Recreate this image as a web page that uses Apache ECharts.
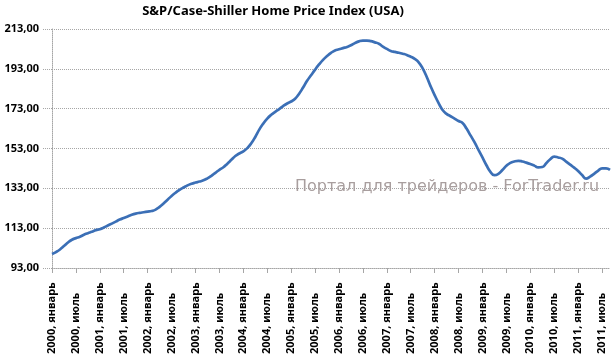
<!DOCTYPE html>
<html>
<head>
<meta charset="utf-8">
<script src="https://cdn.jsdelivr.net/npm/echarts@6/dist/echarts.min.js"></script>
<style>html,body{margin:0;padding:0;background:#fff}#c{width:612px;height:357px}</style>
</head>
<body>
<div id="c"></div>
<script>
// Monthly index values, January..December
const y2000 = [100.0, 101.0, 102.3, 104.0, 105.8, 107.2, 108.0, 108.7, 109.7, 110.5, 111.2, 112.0];
const y2001 = [112.5, 113.3, 114.3, 115.3, 116.3, 117.3, 118.1, 118.9, 119.7, 120.3, 120.7, 121.0];
const y2002 = [121.3, 121.6, 122.3, 123.7, 125.4, 127.3, 129.2, 130.8, 132.2, 133.4, 134.5, 135.3];
const y2003 = [135.9, 136.4, 137.0, 138.0, 139.3, 140.8, 142.3, 143.6, 145.4, 147.3, 149.2, 150.5];
const y2004 = [151.6, 153.2, 155.6, 158.8, 162.5, 165.5, 168.0, 169.9, 171.4, 172.8, 174.3, 175.6];
const y2005 = [176.6, 178.0, 180.5, 183.6, 187.0, 189.8, 192.6, 195.2, 197.5, 199.4, 201.0, 202.2];
const y2006 = [202.8, 203.4, 204.0, 204.8, 205.9, 206.8, 207.2, 207.2, 206.9, 206.3, 205.6, 204.2];
const y2007 = [203.0, 202.0, 201.5, 201.1, 200.6, 200.0, 199.1, 198.0, 196.3, 193.2, 189.0, 184.2];
const y2008 = [179.8, 175.8, 172.3, 170.4, 169.2, 168.0, 166.8, 165.8, 163.0, 159.6, 156.2, 152.3];
const y2009 = [148.5, 144.6, 141.3, 139.6, 140.3, 142.2, 144.3, 145.8, 146.5, 146.8, 146.5, 145.9];
const y2010 = [145.2, 144.4, 143.5, 143.7, 145.6, 147.6, 148.9, 148.5, 147.9, 146.4, 144.9, 143.4];
const y2011 = [141.7, 139.7, 137.9, 138.9, 140.3, 141.8, 143.0, 143.0, 142.3];
const years = ['2000','2001','2002','2003','2004','2005','2006','2007','2008','2009','2010','2011'];
const monthNames = ['январь','февраль','март','апрель','май','июнь','июль','август','сентябрь','октябрь','ноябрь','декабрь'];
const yTicks = [93, 113, 133, 153, 173, 193, 213];
const titleText = 'S&P/Case-Shiller Home Price Index (USA)';
const watermark = 'Портал для трейдеров - ForTrader.ru';

const yearly = [y2000,y2001,y2002,y2003,y2004,y2005,y2006,y2007,y2008,y2009,y2010,y2011];
const values = [];
const categories = [];
yearly.forEach((arr, yi) => {
  arr.forEach((v, mi) => {
    values.push(v);
    categories.push(years[yi] + ', ' + monthNames[mi]);
  });
});

const chart = echarts.init(document.getElementById('c'), null, {renderer: 'canvas'});
const grey = '#a6a6a6';
chart.setOption({
  animation: false,
  backgroundColor: '#ffffff',
  title: {
    text: titleText,
    left: 268, top: 0, textAlign: 'center',
    textStyle: {fontFamily: 'Noto Sans', fontWeight: 'bold', fontSize: 13, color: '#000'}
  },
  grid: {left: 52, right: 2, top: 29, bottom: 86, containLabel: false},
  xAxis: {
    type: 'category',
    data: categories,
    boundaryGap: false,
    axisLine: {lineStyle: {color: grey, type: 'dotted', width: 1}},
    axisTick: {show: true, interval: 5, length: 5, lineStyle: {color: grey}},
    axisLabel: {
      interval: 5, rotate: 90, align: 'left', verticalAlign: 'middle', margin: 86,
      fontFamily: 'Noto Sans', fontWeight: 'bold', fontSize: 11, color: '#000'
    },
    splitLine: {show: false}
  },
  yAxis: {
    type: 'value',
    min: yTicks[0], max: yTicks[yTicks.length - 1], interval: yTicks[1] - yTicks[0],
    axisLine: {show: true, lineStyle: {color: grey, type: 'dotted', width: 1}},
    axisTick: {show: true, length: 9, lineStyle: {color: grey, type: 'dotted'}},
    axisLabel: {
      margin: 13,
      formatter: v => v.toFixed(2).replace('.', ','),
      fontFamily: 'Noto Sans', fontWeight: 'bold', fontSize: 11, color: '#000'
    },
    splitLine: {show: true, lineStyle: {color: grey, type: 'dotted', width: 1}}
  },
  graphic: [{
    type: 'text', left: 295, top: 179, z: 100,
    style: {text: watermark, fill: '#a89e9e', font: '16px "DejaVu Sans"'}
  }],
  series: [{
    type: 'line',
    data: values,
    smooth: true,
    showSymbol: false,
    lineStyle: {color: '#3b6fb6', width: 2.7},
    z: 3
  }]
});
</script>
</body>
</html>
